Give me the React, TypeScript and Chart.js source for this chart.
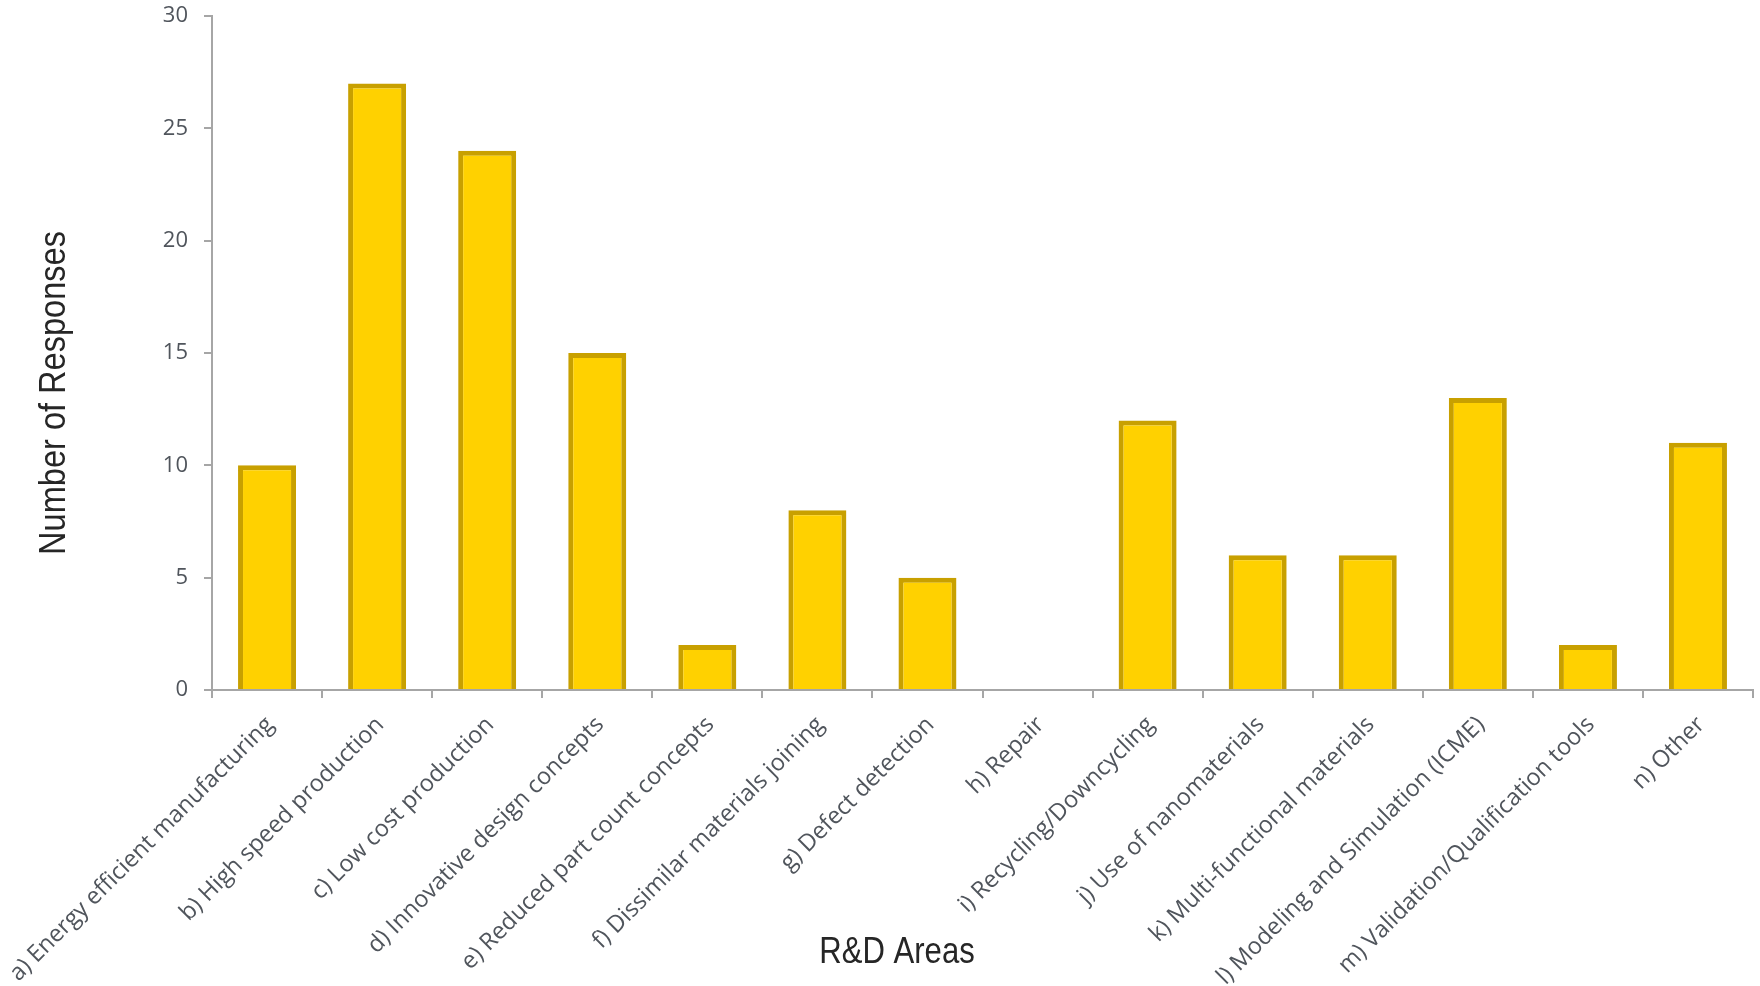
import React, { useEffect, useRef } from "react";
import { Chart, registerables } from "chart.js";

Chart.register(...registerables);

const categories = [
  "a) Energy efficient manufacturing",
  "b) High speed production",
  "c) Low cost production",
  "d) Innovative design concepts",
  "e) Reduced part count concepts",
  "f) Dissimilar materials joining",
  "g) Defect detection",
  "h) Repair",
  "i) Recycling/Downcycling",
  "j) Use of nanomaterials",
  "k) Multi-functional materials",
  "l) Modeling and Simulation (ICME)",
  "m) Validation/Qualification tools",
  "n) Other",
];
const responses = [10, 27, 24, 15, 2, 8, 5, 0, 12, 6, 6, 13, 2, 11];
const yMin = 0;
const yMax = 30;
const yStep = 5;
const yTitle = "Number of Responses";
const xTitle = "R&D Areas";

const FILL = "#FFD100";
const EDGE = "#C8A000";
const AXIS = "#A6A6A6";
const TICK_TEXT = "#50555C";
const TITLE_TEXT = "#262626";
const TICK_FONT = '"Open Sans", "Liberation Sans", sans-serif';
const TITLE_FONT = '"Liberation Sans", Arial, sans-serif';

export default function App() {
  const ref = useRef<HTMLCanvasElement | null>(null);

  useEffect(() => {
    document.body.style.margin = "0";
    const canvas = ref.current;
    if (!canvas) return;

    const titlePlugin = {
      id: "axisTitles",
      afterDraw(chart: any) {
        const ctx = chart.ctx as CanvasRenderingContext2D;
        ctx.save();
        ctx.fillStyle = TITLE_TEXT;
        ctx.textAlign = "center";
        ctx.textBaseline = "alphabetic";
        ctx.font = `37px ${TITLE_FONT}`;
        // x-axis title (narrow face)
        ctx.save();
        ctx.translate(897, 963);
        ctx.scale(0.84, 1);
        ctx.fillText(xTitle, 0, 0);
        ctx.restore();
        // y-axis title
        ctx.save();
        ctx.translate(65, 393);
        ctx.rotate(-Math.PI / 2);
        ctx.scale(0.88, 1);
        ctx.fillText(yTitle, 0, 0);
        ctx.restore();
        ctx.restore();
      },
    };

    const chart = new Chart(canvas, {
      type: "bar",
      data: {
        labels: categories,
        datasets: [
          {
            data: responses,
            backgroundColor: FILL,
            borderColor: EDGE,
            borderWidth: 5,
            barPercentage: 0.527,
            categoryPercentage: 1,
          },
        ],
      },
      options: {
        responsive: false,
        animation: false,
        layout: { padding: { top: 16, right: 7, left: 0, bottom: 0 } },
        plugins: {
          legend: { display: false },
          tooltip: { enabled: false },
          title: { display: false },
        },
        scales: {
          x: {
            offset: true,
            grid: {
              display: true,
              drawOnChartArea: false,
              drawTicks: true,
              tickLength: 8,
              color: AXIS,
              lineWidth: 2,
              offset: true,
            },
            border: { display: true, color: AXIS, width: 2 },
            ticks: {
              autoSkip: false,
              maxRotation: 45,
              minRotation: 45,
              color: TICK_TEXT,
              padding: 13,
              labelOffset: 3,
              font: { family: TICK_FONT, size: 23.5 },
            },
            afterFit: (s: any) => {
              s.height = 296;
              s.paddingLeft = 0;
              s.paddingRight = 0;
            },
          },
          y: {
            min: yMin,
            max: yMax,
            grid: {
              display: true,
              drawOnChartArea: false,
              drawTicks: true,
              tickLength: 8,
              color: AXIS,
              lineWidth: 2,
            },
            border: { display: true, color: AXIS, width: 2 },
            ticks: {
              stepSize: yStep,
              color: TICK_TEXT,
              padding: 16,
              font: { family: TICK_FONT, size: 22 },
            },
            afterFit: (s: any) => {
              s.width = 212;
              s.paddingTop = 0;
              s.paddingBottom = 0;
            },
          },
        },
      },
      plugins: [titlePlugin],
    });

    return () => chart.destroy();
  }, []);

  return (
    <div style={{ position: "fixed", left: 0, top: 0, width: 1760, height: 986 }}>
      <canvas ref={ref} width={1760} height={986} />
    </div>
  );
}
